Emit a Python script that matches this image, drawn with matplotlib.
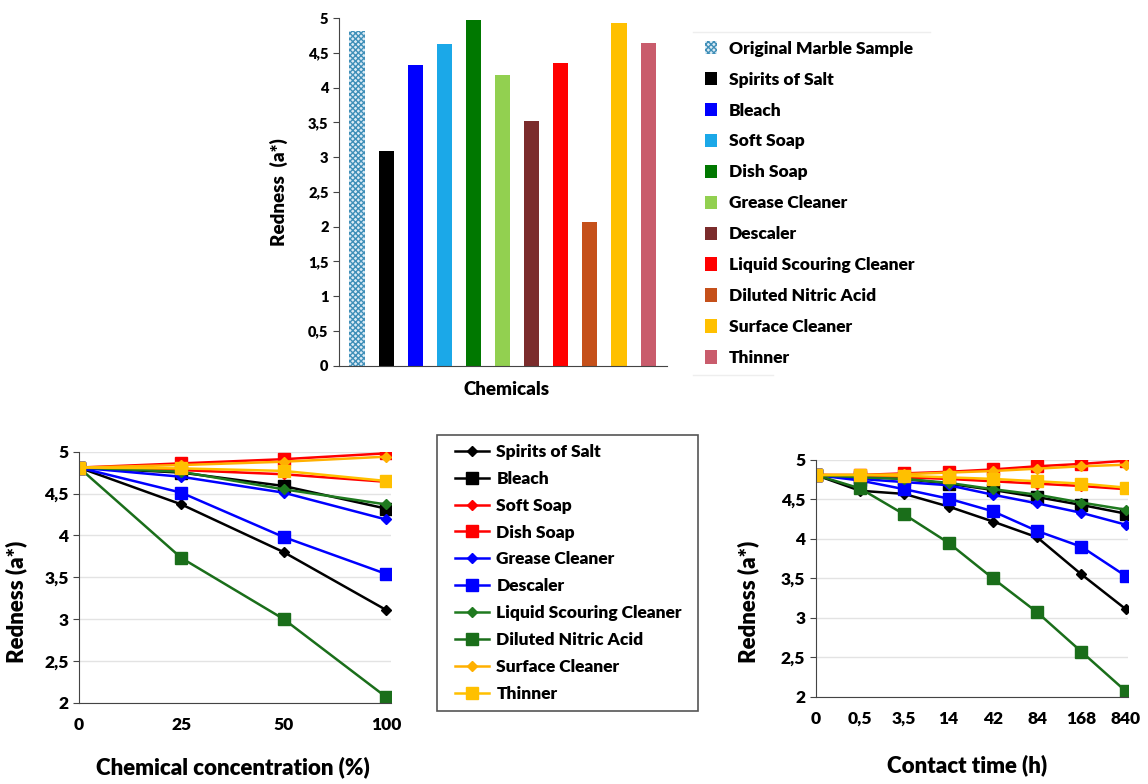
import numpy as np
import matplotlib
matplotlib.use("Agg")
import matplotlib.pyplot as plt
from matplotlib.patches import Patch, Rectangle
from matplotlib.lines import Line2D
from matplotlib.ticker import FuncFormatter, MultipleLocator

plt.rcParams['font.family'] = ['Lato', 'DejaVu Sans']
plt.rcParams['font.weight'] = 'heavy'
W = 'heavy'

# --- top bar chart data ---
bar_labels = ['Original Marble Sample', 'Spirits of Salt', 'Bleach', 'Soft Soap',
              'Dish Soap', 'Grease Cleaner', 'Descaler', 'Liquid Scouring Cleaner',
              'Diluted Nitric Acid', 'Surface Cleaner', 'Thinner']
bar_values = [4.81, 3.09, 4.32, 4.63, 4.97, 4.18, 3.52, 4.36, 2.07, 4.93, 4.64]
bar_colors = ['#dcebf5', '#000000', '#0000ff', '#1ba8e8', '#007800', '#92d050',
              '#7b2c2c', '#ff0000', '#c5501a', '#ffc000', '#c95c6c']

# --- line chart data ---
series_names = ['Spirits of Salt', 'Bleach', 'Soft Soap', 'Dish Soap', 'Grease Cleaner',
                'Descaler', 'Liquid Scouring Cleaner', 'Diluted Nitric Acid',
                'Surface Cleaner', 'Thinner']
series_colors = ['#000000', '#000000', '#ff0000', '#ff0000', '#0000ff', '#0000ff',
                 '#1f7a1f', '#1a6e1a', '#ffb000', '#ffc000']
series_markers = ['D', 's', 'D', 's', 'D', 's', 'D', 's', 'D', 's']

conc_labels = ['0', '25', '50', '100']
conc_values = [
    [4.81, 4.37, 3.80, 3.11],   # Spirits of Salt
    [4.81, 4.75, 4.59, 4.32],   # Bleach
    [4.81, 4.78, 4.73, 4.64],   # Soft Soap
    [4.81, 4.86, 4.91, 4.98],   # Dish Soap
    [4.81, 4.70, 4.51, 4.19],   # Grease Cleaner
    [4.81, 4.51, 3.98, 3.54],   # Descaler
    [4.81, 4.76, 4.55, 4.37],   # Liquid Scouring Cleaner
    [4.81, 3.73, 3.00, 2.07],   # Diluted Nitric Acid
    [4.81, 4.84, 4.88, 4.94],   # Surface Cleaner
    [4.81, 4.80, 4.77, 4.65],   # Thinner
]

time_labels = ['0', '0,5', '3,5', '14', '42', '84', '168', '840']
time_values = [
    [4.81, 4.61, 4.57, 4.41, 4.22, 4.02, 3.55, 3.11],
    [4.81, 4.79, 4.76, 4.70, 4.62, 4.53, 4.43, 4.32],
    [4.81, 4.80, 4.78, 4.76, 4.73, 4.70, 4.67, 4.63],
    [4.81, 4.81, 4.83, 4.85, 4.88, 4.92, 4.95, 4.99],
    [4.81, 4.76, 4.72, 4.68, 4.56, 4.45, 4.33, 4.18],
    [4.81, 4.74, 4.63, 4.51, 4.35, 4.10, 3.90, 3.53],
    [4.81, 4.78, 4.76, 4.71, 4.63, 4.56, 4.46, 4.37],
    [4.81, 4.64, 4.31, 3.95, 3.50, 3.07, 2.57, 2.07],
    [4.81, 4.81, 4.82, 4.84, 4.86, 4.89, 4.92, 4.94],
    [4.81, 4.81, 4.80, 4.78, 4.76, 4.73, 4.70, 4.65],
]


def comma_fmt(v, pos):
    return f'{v:g}'.replace('.', ',')


fig = plt.figure(figsize=(11.48, 7.84), dpi=100)

# top bar chart
ax_bar = fig.add_axes([0.2953, 0.5335, 0.2857, 0.4435])
xb = np.arange(len(bar_values))
bars = ax_bar.bar(xb, bar_values, width=0.52, color=bar_colors, linewidth=0)
bars[0].set_hatch('xxxxxx')
bars[0].set_edgecolor('#3f8fb8')
ax_bar.set_xlim(-0.62, 10.65)
ax_bar.set_ylim(0, 5)
ax_bar.yaxis.set_major_locator(MultipleLocator(0.5))
ax_bar.yaxis.set_major_formatter(FuncFormatter(comma_fmt))
ax_bar.set_xticks([])
for s in ['top', 'right']:
    ax_bar.spines[s].set_visible(False)
for s in ['left', 'bottom']:
    ax_bar.spines[s].set_color('#444444')
ax_bar.tick_params(axis='y', labelsize=10.5, length=4, color='#444444')
for lab in ax_bar.get_yticklabels():
    lab.set_fontweight(W)
ax_bar.set_ylabel('Redness  (a*)', fontsize=13.5, fontweight=W)
ax_bar.yaxis.set_label_coords(-0.155, 0.5)
ax_bar.set_xlabel('Chemicals', fontsize=13.5, fontweight=W)
ax_bar.xaxis.set_label_coords(0.51, -0.045)

bar_handles = [Patch(facecolor=c, edgecolor='none') for c in bar_colors]
bar_handles[0] = Patch(facecolor=bar_colors[0], edgecolor='#3f8fb8', hatch='xxxxxx', linewidth=0)
fig.legend(bar_handles, bar_labels, loc='upper left', bbox_to_anchor=(0.608, 0.957),
           frameon=False, handlelength=0.7, handleheight=0.8,
           handletextpad=0.7, labelspacing=0.86, borderaxespad=0,
           prop={'size': 12.5, 'weight': W})
# faint separator lines around the bar legend
fig.add_artist(Line2D([0.604, 0.81], [0.959, 0.959], color='#eeeeee', linewidth=1))
fig.add_artist(Line2D([0.604, 0.673], [0.522, 0.522], color='#eeeeee', linewidth=1))


def line_panel(ax, labels, values):
    x = np.arange(len(labels))
    for name, vals, c, m in zip(series_names, values, series_colors, series_markers):
        ms = 8.5 if m == 's' else 5
        ax.plot(x, vals, color=c, marker=m, markersize=ms, linewidth=1.8, label=name)
    ax.set_xlim(0, len(labels) - 1 + 0.05)
    ax.set_ylim(2, 5)
    ax.set_xticks(x)
    ax.set_xticklabels(labels)
    ax.yaxis.set_major_locator(MultipleLocator(0.5))
    ax.yaxis.set_major_formatter(FuncFormatter(comma_fmt))
    ax.grid(axis='y', color='#e3e3e3', linewidth=1)
    ax.set_axisbelow(True)
    for s in ['top', 'right']:
        ax.spines[s].set_visible(False)
    for s in ['left', 'bottom']:
        ax.spines[s].set_color('#444444')
    ax.tick_params(axis='x', labelsize=12.5, length=0, pad=10)
    ax.tick_params(axis='y', labelsize=12.5, length=4, color='#444444')
    for lab in ax.get_xticklabels() + ax.get_yticklabels():
        lab.set_fontweight(W)


ax_conc = fig.add_axes([0.0688, 0.1037, 0.2718, 0.3202])
line_panel(ax_conc, conc_labels, conc_values)
ax_conc.set_ylabel('Redness (a*)', fontsize=16, fontweight=W)
ax_conc.yaxis.set_label_coords(-0.165, 0.4)
ax_conc.set_xlabel('Chemical concentration (%)', fontsize=16, fontweight=W)
ax_conc.xaxis.set_label_coords(0.494, -0.215)

ax_time = fig.add_axes([0.7105, 0.1114, 0.272, 0.3019])
line_panel(ax_time, time_labels, time_values)
ax_time.set_ylabel('Redness (a*)', fontsize=16, fontweight=W)
ax_time.yaxis.set_label_coords(-0.18, 0.4)
ax_time.set_xlabel('Contact time (h)', fontsize=16, fontweight=W)
ax_time.xaxis.set_label_coords(0.485, -0.245)

# shared legend for both line charts, with its own box
fig.add_artist(Rectangle((0.3807, 0.0931), 0.2274, 0.352, transform=fig.transFigure,
                         facecolor='none', edgecolor='#555555', linewidth=1.2))
line_handles = [Line2D([], [], color=c, marker=m, markersize=(8.5 if m == 's' else 5), linewidth=1.8)
                for c, m in zip(series_colors, series_markers)]
fig.legend(line_handles, series_names, loc='upper left', bbox_to_anchor=(0.396, 0.434),
           frameon=False, handlelength=2.0, handletextpad=0.4, labelspacing=0.63,
           borderpad=0, borderaxespad=0, prop={'size': 12.5, 'weight': W})

fig.savefig('out.png', dpi=100)
